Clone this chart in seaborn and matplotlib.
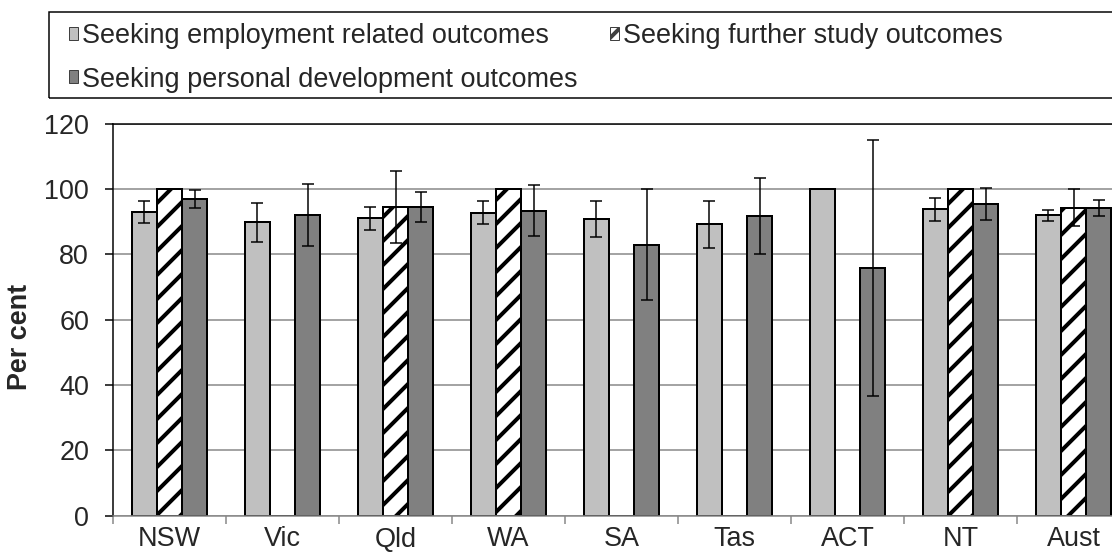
import numpy as np
import pandas as pd
import matplotlib
matplotlib.use('Agg')
import matplotlib.pyplot as plt
from matplotlib.patches import Patch, Rectangle
import seaborn as sb

states = ['NSW', 'Vic', 'Qld', 'WA', 'SA', 'Tas', 'ACT', 'NT', 'Aust']
outcomes = ['Seeking employment related outcomes',
            'Seeking further study outcomes',
            'Seeking personal development outcomes']

employment = [93.0, 89.8, 91.0, 92.8, 90.7, 89.2, 100.0, 93.8, 92.0]
employment_err = [3.4, 5.9, 3.5, 3.4, 5.5, 7.2, np.nan, 3.5, 1.7]
further = [100.0, 0.0, 94.4, 100.0, 0.0, 0.0, 0.0, 100.0, 94.3]
further_err = [np.nan, np.nan, 11.0, np.nan, np.nan, np.nan, np.nan, np.nan, 5.7]
personal = [97.0, 92.0, 94.4, 93.4, 82.9, 91.8, 75.9, 95.3, 94.1]
personal_err = [2.7, 9.4, 4.6, 7.8, 17.0, 11.7, 39.2, 4.9, 2.4]

values = [employment, further, personal]
errors = [employment_err, further_err, personal_err]
colors = ['#C0C0C0', '#FFFFFF', '#808080']

rows = []
for name, vals in zip(outcomes, values):
    for st, v in zip(states, vals):
        rows.append({'State': st, 'Outcome': name, 'Percent': v})
df = pd.DataFrame(rows)

sb.set_style('white')
plt.rcParams['font.family'] = ['Liberation Sans', 'DejaVu Sans']
plt.rcParams['hatch.linewidth'] = 2.0
plt.rcParams['hatch.color'] = 'black'

FS = 13.5
DPI = 144
fig = plt.figure(figsize=(1112 / DPI, 556 / DPI), dpi=DPI)
ax = fig.add_axes([113 / 1112, 1 - 515.5 / 556, 1017 / 1112, 391.8 / 556])

sb.barplot(data=df, x='State', y='Percent', hue='Outcome', order=states,
           hue_order=outcomes, palette=colors, width=0.667, errorbar=None,
           edgecolor='black', linewidth=1.0, legend=False, ax=ax)

n = len(states)
for i in range(3):
    bars = ax.patches[i * n:(i + 1) * n]
    if i == 1:
        for b in bars:
            b.set_hatch('//')
            b.set_facecolor('white')
    xs = [b.get_x() + b.get_width() / 2 for b in bars]
    ax.errorbar(xs, values[i], yerr=errors[i], fmt='none', ecolor='black',
                elinewidth=0.75, capsize=2.9, capthick=0.75, zorder=5)

ax.set_xlim(-0.5, n - 0.5)
ax.set_ylim(0, 120)
ax.set_yticks(range(0, 121, 20))
ax.yaxis.grid(True, color='#868686', linewidth=0.75)
ax.set_axisbelow(True)

ax.set_xlabel('')
ax.set_ylabel('Per cent', fontsize=FS, fontweight='bold')
ax.yaxis.set_label_coords(-0.079, 0.457)

ax.tick_params(axis='y', length=4, width=0.75, color='black', pad=8,
               labelsize=FS, direction='out', left=True)
ax.tick_params(axis='x', which='major', length=0, pad=5.5, labelsize=FS)
ax.set_xticks(np.arange(-0.5, n, 1.0), minor=True)
ax.tick_params(axis='x', which='minor', length=4, width=0.75,
               color='#868686', direction='out', bottom=True)

for side in ['left', 'top']:
    ax.spines[side].set_color('black')
    ax.spines[side].set_linewidth(0.75)
ax.spines['bottom'].set_color('#868686')
ax.spines['bottom'].set_linewidth(0.75)
ax.spines['right'].set_visible(False)

# legend box like the original (runs off the right edge)
fig.patches.append(Rectangle((49 / 1112, 1 - 98 / 556), 1100 / 1112, 86 / 556,
                             transform=fig.transFigure, fill=False,
                             edgecolor='black', linewidth=0.75))

handles = []
for name, c in zip(outcomes, colors):
    h = Patch(facecolor=c, edgecolor='#404040', linewidth=0.5, label=name)
    if c == '#FFFFFF':
        h.set_hatch('//')
    handles.append(h)
order = [0, 2, 1]
fig.legend([handles[k] for k in order], [outcomes[k] for k in order],
           loc='upper left', bbox_to_anchor=(69 / 1112, 1 - 23 / 556),
           ncol=2, frameon=False, fontsize=FS, borderpad=0,
           borderaxespad=0, handlelength=0.35, handleheight=0.35,
           handletextpad=0.13, columnspacing=1.2, labelspacing=0.65)

fig.savefig('out.png', dpi=DPI)
